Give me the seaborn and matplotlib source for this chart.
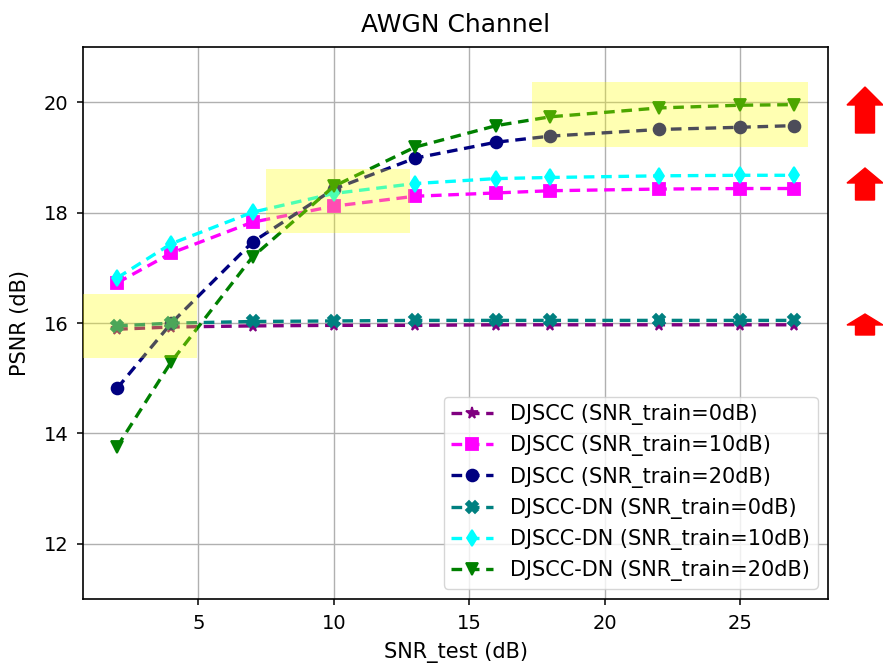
import numpy as np
import pandas as pd
import seaborn as sns
import matplotlib.pyplot as plt
from matplotlib.patches import Rectangle, FancyArrow
from matplotlib.transforms import IdentityTransform

# SNR_test 取值
snr_test = [2, 4, 7, 10, 13, 16, 18, 22, 25, 27]

# 各模型的 PSNR (dB)
djscc_0 = [15.89, 15.93, 15.95, 15.96, 15.96, 15.97, 15.97, 15.97, 15.97, 15.97]
djscc_10 = [16.73, 17.27, 17.83, 18.12, 18.30, 18.36, 18.40, 18.43, 18.44, 18.44]
djscc_20 = [14.82, 16.00, 17.47, 18.43, 18.99, 19.28, 19.39, 19.51, 19.55, 19.58]
dn_0 = [15.95, 16.00, 16.03, 16.04, 16.05, 16.05, 16.05, 16.05, 16.05, 16.05]
dn_10 = [16.82, 17.44, 18.01, 18.35, 18.53, 18.62, 18.64, 18.67, 18.68, 18.68]
dn_20 = [13.76, 15.30, 17.20, 18.48, 19.19, 19.58, 19.74, 19.90, 19.95, 19.96]

labels = ['DJSCC (SNR_train=0dB)', 'DJSCC (SNR_train=10dB)', 'DJSCC (SNR_train=20dB)',
          'DJSCC-DN (SNR_train=0dB)', 'DJSCC-DN (SNR_train=10dB)', 'DJSCC-DN (SNR_train=20dB)']
series = [djscc_0, djscc_10, djscc_20, dn_0, dn_10, dn_20]
colors = ['purple', 'magenta', 'navy', 'teal', 'cyan', 'green']
markers = ['*', 's', 'o', 'X', 'd', 'v']

# 高亮区域 (x0, y0, 宽, 高)
highlights = [(0.4, 15.37, 4.55, 1.16), (7.49, 17.64, 5.31, 1.16), (17.31, 19.20, 10.21, 1.17)]

plt.rcParams['font.family'] = 'DejaVu Sans'
plt.rcParams['font.size'] = 14

fig = plt.figure(figsize=(8.83, 6.63), dpi=100)
ax = fig.add_axes([0.0943, 0.0965, 0.9377 - 0.0943, 0.9287 - 0.0965])

for vals, lab, c, m in zip(series, labels, colors, markers):
    df = pd.DataFrame({'SNR_test': snr_test, 'PSNR': vals})
    sns.lineplot(data=df, x='SNR_test', y='PSNR', ax=ax, color=c, marker=m,
                 linewidth=2.4, markersize=8.5, markeredgewidth=1.3,
                 markeredgecolor=c, label=lab)
# 虚线
dash = (0, (3.2, 2.0))
for line in ax.lines:
    line.set_linestyle(dash)

for x0, y0, w, h in highlights:
    ax.add_patch(Rectangle((x0, y0), w, h, facecolor='yellow', alpha=0.3,
                           edgecolor='none', zorder=5))

ax.set_ylim(11, 21)
ax.set_xlim(0.75, 28.25)
ax.set_yticks([12, 14, 16, 18, 20])
ax.set_xticks([5, 10, 15, 20, 25])
ax.grid(True, color='#b0b0b0', linewidth=1)
ax.set_axisbelow(True)
ax.tick_params(length=4.5, width=1.1, pad=6, labelsize=14)
for spine in ax.spines.values():
    spine.set_color('black')
    spine.set_linewidth(1.2)

ax.set_title('AWGN Channel', fontsize=18, pad=11)
ax.set_xlabel('SNR_test (dB)', fontsize=15, labelpad=7)
ax.set_ylabel('PSNR (dB)', fontsize=15, labelpad=10)
leg = ax.legend(loc='lower right', fontsize=15, handlelength=2, handletextpad=0.85,
                labelspacing=0.49, borderpad=0.35)
for h in leg.legend_handles:
    h.set_linestyle(dash)

# 右侧红色箭头 (像素坐标)
for base, length, head in [(530, 46, 18), (463, 32, 15), (328, 21, 11)]:
    fig.patches.append(FancyArrow(865, base, 0, length, width=19, head_width=36,
                                  head_length=head, length_includes_head=True,
                                  color='red', transform=IdentityTransform(),
                                  figure=fig))

fig.savefig('out.png', dpi=100)
